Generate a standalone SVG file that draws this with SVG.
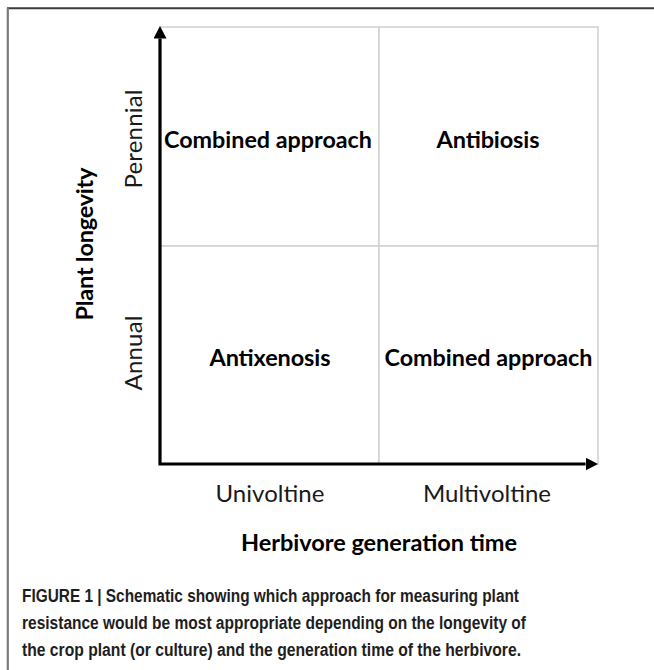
<svg xmlns="http://www.w3.org/2000/svg" width="654" height="670" viewBox="0 0 654 670">
  <style>
    .cell { fill: #ffffff; stroke: #d2d2d2; stroke-width: 1.6; }
    .lbl { font-family: Lato, "Open Sans", "Liberation Sans", sans-serif; font-weight: 700; font-size: 23.5px; fill: #000; text-anchor: middle; }
    .tick { font-family: Lato, "Open Sans", "Liberation Sans", sans-serif; font-weight: 400; font-size: 24px; fill: #1a1a1a; text-anchor: middle; }
    .axis { fill: none; stroke: #000; stroke-width: 3.2; stroke-linejoin: miter; }
    .cap { font-family: "Liberation Sans", Arial, sans-serif; font-weight: 700; font-size: 17.5px; fill: #1e1e1e; }
  </style>
  <defs>
    <marker id="head" markerUnits="userSpaceOnUse" markerWidth="13" markerHeight="13" refX="0" refY="6.5" orient="auto-start-reverse">
      <path d="M0,0 L12.5,6.5 L0,13 Z" fill="#000"/>
    </marker>
  </defs>

  <rect width="654" height="670" fill="#ffffff"/>

  <!-- figure frame: top and left rules -->
  <g id="frame">
    <line x1="7" y1="8.3" x2="654" y2="8.3" stroke="#3a3a3a" stroke-width="2"/>
    <line x1="7.8" y1="8" x2="7.8" y2="670" stroke="#7a7a7a" stroke-width="2.2"/>
  </g>

  <!-- quadrants -->
  <g id="cell-perennial-univoltine">
    <rect class="cell" x="160" y="27" width="219" height="219"/>
    <text class="lbl" x="268" y="148" textLength="208" lengthAdjust="spacingAndGlyphs">Combined approach</text>
  </g>
  <g id="cell-perennial-multivoltine">
    <rect class="cell" x="379" y="27" width="219" height="219"/>
    <text class="lbl" x="488" y="148" textLength="103" lengthAdjust="spacing">Antibiosis</text>
  </g>
  <g id="cell-annual-univoltine">
    <rect class="cell" x="160" y="246" width="219" height="218"/>
    <text class="lbl" x="270" y="366" textLength="121" lengthAdjust="spacing">Antixenosis</text>
  </g>
  <g id="cell-annual-multivoltine">
    <rect class="cell" x="379" y="246" width="219" height="218"/>
    <text class="lbl" x="488.5" y="366" textLength="208" lengthAdjust="spacingAndGlyphs">Combined approach</text>
  </g>

  <!-- axes -->
  <g id="connectors">
    <path class="axis" d="M160,38.5 L160,464 L585.5,464" marker-start="url(#head)" marker-end="url(#head)"/>
  </g>

  <!-- axis category labels -->
  <g id="y-ticks">
    <text class="tick" transform="translate(142,139) rotate(-90)" textLength="99" lengthAdjust="spacing">Perennial</text>
    <text class="tick" transform="translate(142,353) rotate(-90)" textLength="75" lengthAdjust="spacing">Annual</text>
  </g>
  <g id="x-ticks">
    <text class="tick" x="270" y="502" textLength="109" lengthAdjust="spacing">Univoltine</text>
    <text class="tick" x="487" y="502" textLength="128" lengthAdjust="spacing">Multivoltine</text>
  </g>

  <!-- axis titles -->
  <g id="y-title">
    <text class="lbl" transform="translate(93,244) rotate(-90)" textLength="153" lengthAdjust="spacing">Plant longevity</text>
  </g>
  <g id="x-title">
    <text class="lbl" x="379" y="551" textLength="276" lengthAdjust="spacing">Herbivore generation time</text>
  </g>

  <!-- caption -->
  <g id="caption">
    <text class="cap" x="22" y="602" textLength="497" lengthAdjust="spacingAndGlyphs">FIGURE 1 | Schematic showing which approach for measuring plant</text>
    <text class="cap" x="22" y="629" textLength="504" lengthAdjust="spacingAndGlyphs">resistance would be most appropriate depending on the longevity of</text>
    <text class="cap" x="22" y="656" textLength="499" lengthAdjust="spacingAndGlyphs">the crop plant (or culture) and the generation time of the herbivore.</text>
  </g>
</svg>
